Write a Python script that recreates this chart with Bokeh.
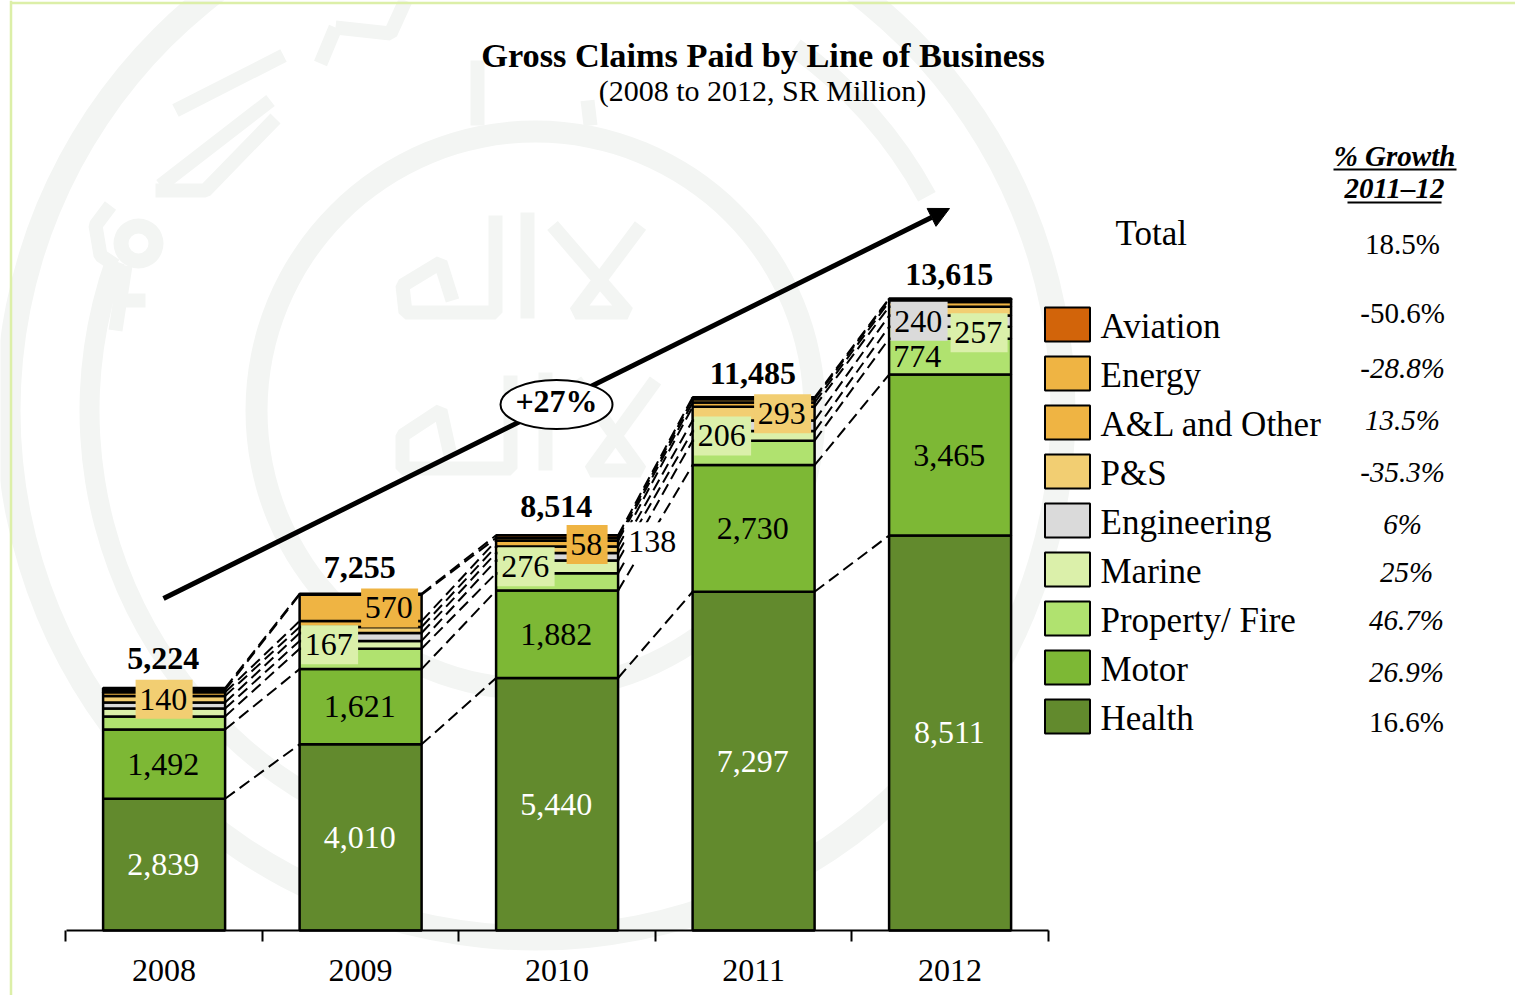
from bokeh.plotting import figure
from bokeh.models import Range1d, LinearAxis, FixedTicker, Arrow, NormalHead
from bokeh.core.properties import value
from bokeh.embed import file_html
from bokeh.resources import INLINE

FONT = "Liberation Serif"

years = ["2008", "2009", "2010", "2011", "2012"]
series = ["Health", "Motor", "Property/ Fire", "Marine", "Engineering", "P&S", "A&L and Other", "Energy", "Aviation"]
health = [2839, 4010, 5440, 7297, 8511]
motor = [1492, 1621, 1882, 2730, 3465]
property_fire = [280, 440, 375, 525, 774]
marine = [170, 167, 276, 206, 257]
engineering = [130, 170, 160, 230, 240]
p_and_s = [140, 130, 138, 293, 190]
a_and_l = [80, 127, 125, 92, 105]
energy = [50, 570, 58, 74, 53]
aviation = [43, 20, 60, 38, 20]
totals = [5224, 7255, 8514, 11485, 13615]
colors = ["#628A2D", "#7DB835", "#B0E26F", "#DBF0AA", "#DADADA", "#F2CE72", "#EFB443", "#EFB443", "#D2640A"]
growth_labels = ["-50.6%", "-28.8%", "13.5%", "-35.3%", "6%", "25%", "46.7%", "26.9%", "16.6%"]
growth_total = "18.5%"
cagr_label = "+27%"

values = [health, motor, property_fire, marine, engineering, p_and_s, a_and_l, energy, aviation]

W, H = 1515, 995
AXIS_Y = 930
Y_SCALE = 632 / 13615      # px per SR million
X_SCALE = 196.5            # px per category
X0 = 163.6                 # px of first category
BAR = 122 / X_SCALE
TEXT_NUDGE = -0.8 / X_SCALE

def dx(px):
    return (px - X0) / X_SCALE

def dy(py):
    return (AXIS_Y - py) / Y_SCALE

p = figure(width=W, height=H, output_backend="svg", toolbar_location=None,
           x_range=Range1d(dx(0), dx(W)), y_range=Range1d(dy(H), dy(0)),
           x_axis_type=None, y_axis_type=None,
           min_border_left=0, min_border_right=0, min_border_top=0, min_border_bottom=0)
p.grid.visible = False
p.outline_line_color = None
p.background_fill_color = "white"
p.border_fill_color = "white"

# ---- faint watermark seal ----
WM = "#F3F5F3"
cx, cy = dx(535), dy(410)
p.annulus([cx], [cy], inner_radius=515, outer_radius=540, inner_radius_units="screen",
          outer_radius_units="screen", fill_color=WM, line_color=None, level="image")
p.annulus([cx], [cy], inner_radius=268, outer_radius=290, inner_radius_units="screen",
          outer_radius_units="screen", fill_color=WM, line_color=None, level="image")
p.annulus([dx(138)], [dy(243)], inner_radius=10, outer_radius=25, inner_radius_units="screen",
          outer_radius_units="screen", fill_color=WM, line_color=None, level="image")
p.annular_wedge([cx], [cy], inner_radius=436, outer_radius=456, start_angle=2.8, end_angle=4.4,
                inner_radius_units="screen", outer_radius_units="screen", fill_color=WM, line_color=None,
                level="image")
p.annular_wedge([cx], [cy], inner_radius=436, outer_radius=456, start_angle=0.5, end_angle=0.95,
                inner_radius_units="screen", outer_radius_units="screen", fill_color=WM, line_color=None,
                level="image")
strokes = [
    [(495, 215), (495, 312), (405, 312), (402, 285), (440, 262), (452, 300)],
    [(527, 212), (527, 318)],
    [(552, 225), (627, 312), (575, 312), (640, 225)],
    [(510, 375), (510, 468), (402, 468), (402, 435), (440, 410), (450, 455)],
    [(545, 372), (545, 470)],
    [(575, 380), (640, 470), (590, 470), (655, 380)],
    [(175, 110), (283, 55)],
    [(155, 190), (205, 190), (275, 118)],
    [(160, 185), (270, 100)],
    [(110, 205), (95, 225), (100, 255), (115, 265)],
    [(125, 265), (115, 330)],
    [(115, 300), (145, 300)],
    [(335, 27), (390, 33), (405, 0)],
    [(335, 27), (320, 63)],
    [(477, 60), (477, 125)],
    [(587, 100), (590, 125)],
]
p.multi_line([[dx(a) for a, _ in s] for s in strokes], [[dy(b) for _, b in s] for s in strokes],
             line_color=WM, line_width=14, level="image")

# ---- page frame ----
p.segment([dx(10.5), dx(10)], [dy(0), dy(2.5)], [dx(10.5), dx(W)], [dy(H), dy(2.5)],
          line_color="#DCEFA8", line_width=2.5)

# ---- connectors ----
x_idx = list(range(len(years)))
cum = [[0] * len(years)]
for v in values:
    cum.append([a + b for a, b in zip(cum[-1], v)])
for s in range(1, len(values) + 1):
    p.segment([i + BAR / 2 for i in x_idx[:-1]], cum[s][:-1],
              [i + 1 - BAR / 2 for i in x_idx[:-1]], cum[s][1:],
              line_color="black", line_width=2, line_dash="12 6")

# ---- stacked bars ----
for s, v in enumerate(values):
    p.vbar(x=x_idx, bottom=cum[s], top=cum[s + 1], width=BAR, fill_color=colors[s],
           line_color="black", line_width=2.5)

# ---- axis ----
ax = LinearAxis(ticker=FixedTicker(ticks=x_idx, minor_ticks=[i - 0.5 for i in x_idx] + [4.5]),
                major_label_overrides={i: y for i, y in enumerate(years)},
                bounds=(-0.495, 4.5), fixed_location=0)
ax.axis_line_color = "black"
ax.axis_line_width = 2
ax.major_tick_line_color = None
ax.major_tick_in = 0
ax.major_tick_out = 0
ax.minor_tick_line_color = "black"
ax.minor_tick_line_width = 2
ax.minor_tick_in = 0
ax.minor_tick_out = 11
ax.major_label_standoff = 18
ax.major_label_text_font = FONT
ax.major_label_text_font_size = "32px"
ax.major_label_text_color = "black"
p.add_layout(ax, "below")


def text(x, y, s, size=32, style="normal", color="black", align="center"):
    p.text([x], [y], text=[s], text_font=value(FONT), text_font_size=f"{size}px",
           text_font_style=style, text_color=color, text_align=align, text_baseline="middle")


def ptext(px, py, s, **kw):
    text(dx(px), dy(py), s, **kw)


# ---- value labels: health and motor centred, totals above ----
total_gap = [30, 26, 29, 24, 24]
for i in x_idx:
    text(i + TEXT_NUDGE, (cum[0][i] + cum[1][i]) / 2, f"{health[i]:,}", color="white")
    text(i + TEXT_NUDGE, (cum[1][i] + cum[2][i]) / 2, f"{motor[i]:,}")
    text(i + TEXT_NUDGE, totals[i] + total_gap[i] / Y_SCALE, f"{totals[i]:,}", style="bold")

# (year index, series index, x shift px, y shift px, background: series colour / white / none)
small_labels = [
    (0, 5, 0, 0, "series"), (1, 3, -31, 0, "series"), (1, 7, 29, 0, "series"),
    (2, 3, -31, 0, "series"), (2, 7, 30, 5, "series"), (2, 5, 96, -8, "white"),
    (3, 3, -31, 0, "series"), (3, 5, 29, 0, "series"),
    (4, 4, -31, 0, "series"), (4, 3, 29, 0, "series"), (4, 2, -32, 0, None),
]
for yi, si, sx, sy, bg in small_labels:
    val = values[si][yi]
    xm = yi + sx / X_SCALE
    ym = (cum[si][yi] + cum[si + 1][yi]) / 2 - sy / Y_SCALE
    if bg:
        p.rect([xm], [ym], width=len(str(val)) * 16 + 9, height=39, width_units="screen",
               height_units="screen", fill_color=colors[si] if bg == "series" else bg, line_color=None)
    text(xm + TEXT_NUDGE, ym, f"{val:,}")

# ---- growth arrow (drawn beneath the ellipse) ----
p.add_layout(Arrow(end=NormalHead(size=20, fill_color="black", line_color="black"),
                   x_start=dx(163), y_start=dy(598), x_end=dx(949), y_end=dy(208),
                   line_color="black", line_width=5, level="underlay"))
p.ellipse([dx(556)], [dy(404)], width=112, height=49, width_units="screen", height_units="screen",
          fill_color="white", line_color="black", line_width=2)
ptext(556, 400, cagr_label, style="bold", size=32)

# ---- titles ----
ptext(762.5, 54, "Gross Claims Paid by Line of Business", size=34.3, style="bold")
ptext(762, 90, "(2008 to 2012, SR Million)", size=30)

# ---- legend and growth column ----
legend_top = 324
legend_step = 49
growth_x = [1402, 1402, 1402, 1402, 1402, 1406, 1406, 1406, 1406]
growth_y = [312, 367, 419, 471, 523, 571, 619, 671, 721]
growth_style = ["normal", "italic", "italic", "italic", "italic", "italic", "italic", "italic", "normal"]
for k, si in enumerate(range(len(series) - 1, -1, -1)):
    yc = legend_top + k * legend_step
    p.rect([dx(1067)], [dy(yc)], width=45, height=34, width_units="screen", height_units="screen",
           fill_color=colors[si], line_color="black", line_width=2)
    ptext(1100, yc + 2, series[si], size=35, align="left")
    ptext(growth_x[k], growth_y[k], growth_labels[k], size=29, style=growth_style[k])

ptext(1115, 233, "Total", size=35, align="left")
ptext(1402, 243, growth_total, size=29)
ptext(1394, 155, "% Growth", size=29, style="bold italic")
ptext(1394, 187, "2011–12", size=29, style="bold italic")
p.segment([dx(1333), dx(1347)], [dy(169), dy(202)], [dx(1456), dx(1441)], [dy(169), dy(202)],
          line_color="black", line_width=2)

open("out.html", "w").write(file_html(p, INLINE))
